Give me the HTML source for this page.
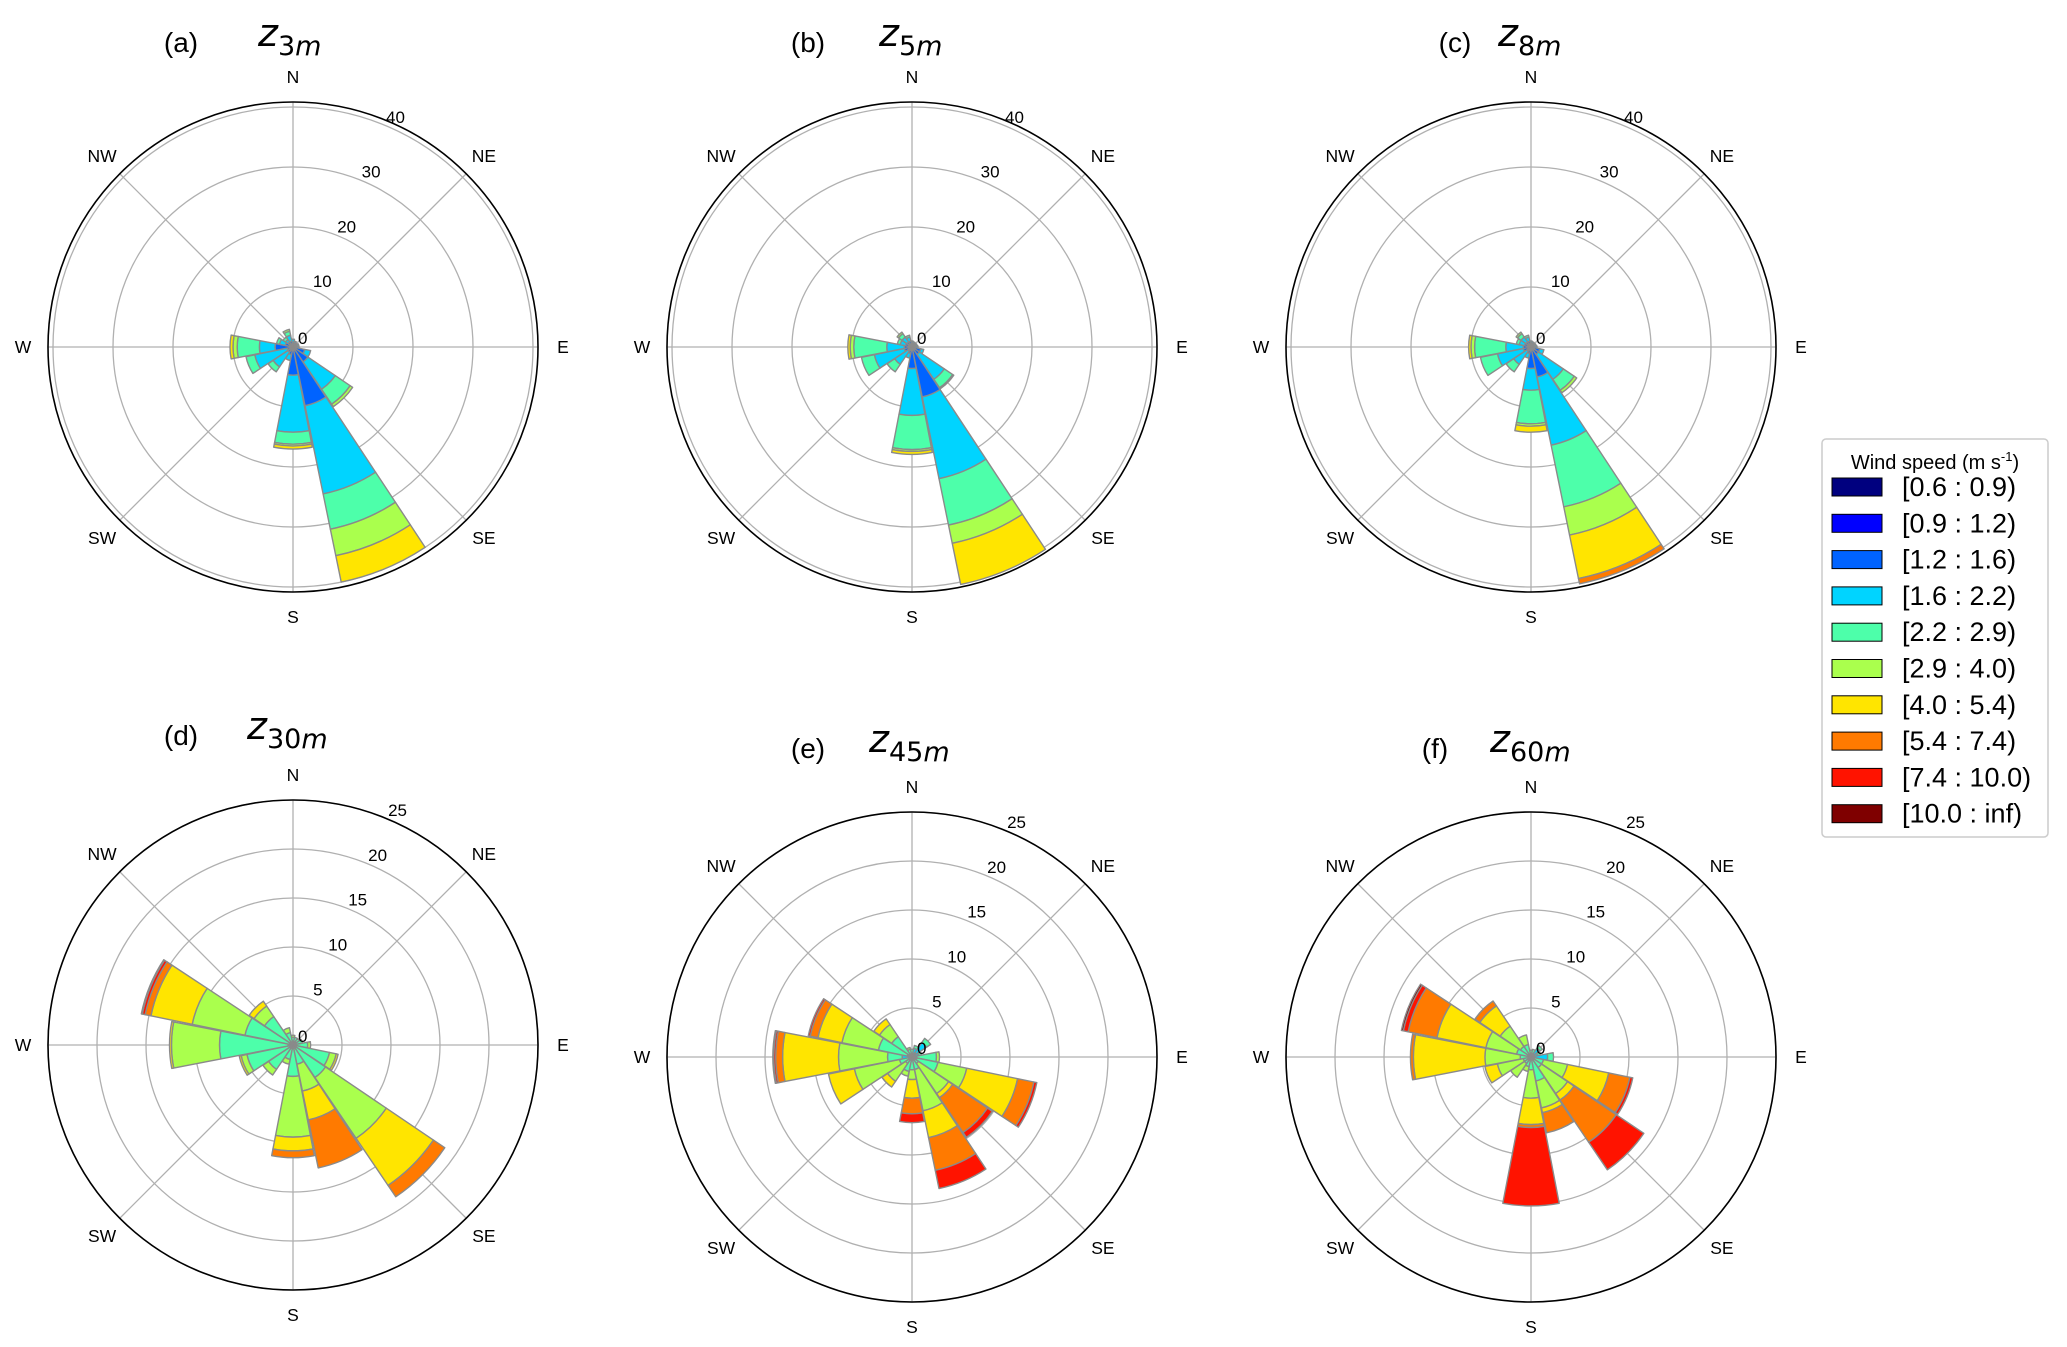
<!DOCTYPE html>
<html><head><meta charset="utf-8"><style>
html,body{margin:0;padding:0;background:#fff;}
svg{display:block;font-family:"Liberation Sans","DejaVu Sans",sans-serif;}
</style></head><body>
<svg id="fig" width="2067" height="1347" viewBox="0 0 2067 1347" xmlns="http://www.w3.org/2000/svg">
<g id="legend">
<rect x="1822" y="439" width="226" height="398" rx="4" fill="#fff" stroke="#ccc" stroke-width="1.5"/>
<text x="1935" y="469" font-size="20" text-anchor="middle">Wind speed (m s<tspan font-size="13" dy="-8">-1</tspan><tspan dy="8">)</tspan></text>
</g>
</svg>
<script>
const binLabels=["[0.6 : 0.9)","[0.9 : 1.2)","[1.2 : 1.6)","[1.6 : 2.2)","[2.2 : 2.9)","[2.9 : 4.0)","[4.0 : 5.4)","[5.4 : 7.4)","[7.4 : 10.0)","[10.0 : inf)"];
const binColors=["#00007f","#0000ff","#0063ff","#00d4ff","#4dffaa","#aaff4d","#ffe500","#ff7a00","#ff1300","#7f0000"];
const dirLabels=["N","NE","E","SE","S","SW","W","NW"];
const panelLetters=["(a)","(b)","(c)","(d)","(e)","(f)"];
const panelHeights=["3m","5m","8m","30m","45m","60m"];
const ticksTop=[10,20,30,40];
const ticksBottom=[5,10,15,20,25];
// frequency (%) increments per speed bin, 16 directions N,NNE,NE,...,NNW
const freqA=[[0,0.3,0.5,0.5],[0,0.3,0.4,0.3],[0,0.2,0.3,0.3],[0,0.3,0.4,0.3],[0,0.3,0.4,0.3],[0,0.5,1.5,1],[0,0.5,2.5,5.5,3,0.5],[0,0.5,9.5,15,6,4.5,4.5],[0,0.3,4.4,9.5,2,0.3,0.5],[0,0.3,1,1],[0,0.3,0.7,3,1],[0,0.3,0.7,5.5,1.5],[0,0.3,2.7,2.6,3.7,0.7,0.5],[0,0.3,1,1,0.5],[0,0.3,0.7,0.5,0.5],[0,0.3,0.7,1,0.7,0.3]];
const freqB=[[0,0.3,0.4,0.3],[0,0.3,0.3,0.3],[0,0.2,0.3,0.3],[0,0.3,0.3,0.3],[0,0.3,0.4,0.3],[0,0.5,1,0.5],[0,0.3,1.2,5,1.7,0.2],[0,0.3,8.2,13.9,7.9,3.1,7],[0,0.3,3.3,7.8,5.7,0.3,0.5],[0,0.3,0.8,0.8],[0,0.3,0.5,2.7,1.5],[0,0.3,1,5.1,2.2],[0,0.3,1,2.9,5.5,0.6,0.4],[0,0.3,0.8,0.9,0.5],[0,0.3,0.7,1,0.7,0.3],[0,0.3,0.7,0.7,0.3]];
const freqC=[[0,0.3,0.4,0.3],[0,0.3,0.3,0.3],[0,0.2,0.3,0.3],[0,0.3,0.3,0.3],[0,0.3,0.4,0.3],[0,0.5,1,0.7],[0,0.3,1.2,5,2.2,0.5],[0,0.3,4.8,11.6,10.5,4.8,7.4,0.9],[0,0.3,3.3,3.6,5.6,0.4,1],[0,0.3,0.8,0.8],[0,0.3,0.5,2.7,1.5],[0,0.3,1,4.4,2.9],[0,0.3,1,2.9,5.2,0.6,0.4],[0,0.3,0.8,0.9,0.5],[0,0.3,0.7,1,0.7,0.3],[0,0.3,0.7,0.7,0.3]];
const freqD=[[0,0,0,0.3,0.5,0.2],[0,0,0,0.3,0.5],[0,0,0,0.3,0.5],[0,0,0,0.3,0.7],[0,0,0,0.3,1.2,0.3],[0,0,0,0.3,3.5,0.7,0.2],[0,0,0,0.3,3.7,7.5,5.8,1.4],[0,0,0,0.3,1.7,2.8,3,5],[0,0,0,0.3,2.9,6.2,1.4,0.7],[0,0,0,0.3,1.2,0.5],[0,0,0,0.3,2.7,0.7],[0,0,0,0.3,4.5,0.6,0.2],[0,0,0,0.5,7,4.9,0.2],[0,0,0,0.3,4.7,5.5,4.3,0.6,0.3,0.1],[0,0,0,0.3,3.2,1.3,0.6],[0,0,0,0.3,1,0.5]];
const freqE=[[0,0,0,0.3,0.5],[0,0,0.3,0.6,0.3],[0,0,0.5,1.3,0.5],[0,0,0.2,0.5,0.3],[0,0,0,0.5,2,0.3],[0,0,0,0.5,2.2,3,5.3,1.7,0.3],[0,0,0,0.3,0.5,3.7,0.5,4.3,0.6],[0,0,0,0.3,1,4.3,2.8,3.4,1.9],[0,0,0,0.3,1,1,1.9,1.6,0.9],[0,0,0,0.3,1.2,0.5],[0,0,0,0.3,0.5,2.2,0.7],[0,0,0,0.3,1,4.7,2.7],[0,0,0,1,1.5,5,5.7,0.7,0.2,0.1],[0,0,0,0.5,3,3.8,2.5,0.8,0.2],[0,0,0,0.3,2.2,1.5,0.7],[0,0,0,0.3,0.5,0.2]];
const freqF=[[0,0,0,0.3,0.4],[0,0,0,0.3,0.5],[0,0,0.3,0.8,0.3],[0,0,0.2,0.5,0.3],[0,0,0.2,1.5,0.6],[0,0,0,0.3,1,2.5,4.3,2.2,0.3],[0,0,0,0.3,1,3.2,0.8,5.2,3.4],[0,0,0,0.3,2.2,2.8,0.5,2.1],[0,0,0,0.3,1,2.9,2.7,0.3,8],[0,0,0,0.3,0.7,0.5],[0,0,0,0.3,0.5,1.7],[0,0,0,0.3,0.5,2.7,1.3],[0,0,0,0.3,0.8,3.6,7.3,0.3],[0,0,0,0.3,1.2,3.2,5.1,3,0.5,0.2],[0,0,0,0.3,1,2.5,2.5,0.6],[0,0,0,0.3,1,1]];
const allFreq=[freqA,freqB,freqC,freqD,freqE,freqF];

const NS="http://www.w3.org/2000/svg";
const svg=document.getElementById('fig');
function mk(tag,attrs,parent){const e=document.createElementNS(NS,tag);for(const k in attrs)e.setAttribute(k,attrs[k]);(parent||svg).appendChild(e);return e;}
const geom=[{cx:293,cy:347,s:6,ty:52},{cx:912,cy:347,s:6,ty:52},{cx:1531,cy:347,s:6,ty:52},{cx:293,cy:1045,s:9.8,ty:745},{cx:912,cy:1057,s:9.8,ty:758},{cx:1531,cy:1057,s:9.8,ty:758}];
const letterX=[181,808,1455,181,808,1435];
const zX=[258,879,1498,247,869,1490];
const R=245;
function pt(cx,cy,r,deg){const a=deg*Math.PI/180;return [cx+r*Math.sin(a),cy-r*Math.cos(a)];}
function sector(cx,cy,r0,r1,a0,a1){
  const p1=pt(cx,cy,r0,a0),p2=pt(cx,cy,r1,a0),p3=pt(cx,cy,r1,a1),p4=pt(cx,cy,r0,a1);
  return `M${p1[0]},${p1[1]}L${p2[0]},${p2[1]}A${r1},${r1} 0 0 1 ${p3[0]},${p3[1]}L${p4[0]},${p4[1]}A${r0},${r0} 0 0 0 ${p1[0]},${p1[1]}Z`;
}
allFreq.forEach((freq,pi)=>{
  const g=geom[pi];
  const rScale=v=>v*g.s;
  const ticks=pi<3?ticksTop:ticksBottom;
  const grp=mk('g',{});
  
  
  ticks.forEach(t=>{
    const c=mk('circle',{cx:g.cx,cy:g.cy,r:Math.min(rScale(t),R),fill:'none',stroke:'#b0b0b0','stroke-width':1.3},grp);
    
    
  });
  for(let k=0;k<8;k++){
    const p=pt(g.cx,g.cy,R,k*45);
    const l=mk('line',{x1:g.cx,y1:g.cy,x2:p[0],y2:p[1],stroke:'#b0b0b0','stroke-width':1.3},grp);
    
    
  }
  freq.forEach((bins,d)=>{
    let cum=0;
    const a0=d*22.5-11.25*0.97,a1=d*22.5+11.25*0.97;
    bins.forEach((v,b)=>{
      if(v<=0)return;
      const r0=rScale(cum);cum+=v;const r1=rScale(cum);
      const p=mk('path',{d:sector(g.cx,g.cy,r0,r1,a0,a1),fill:binColors[b],stroke:'#8a8a8a','stroke-width':1.4,'stroke-linejoin':'round'},grp);
      
      
    });
  });
  const f=mk('circle',{cx:g.cx,cy:g.cy,r:R,fill:'none',stroke:'#000','stroke-width':1.6},grp);
  
  
  const zl=mk('text',{x:g.cx+5,y:g.cy-3,'font-size':17},grp);zl.textContent='0';
  
  
  ticks.forEach(t=>{
    const p=pt(g.cx,g.cy,rScale(t)+12,24);
    const tx=mk('text',{x:p[0],y:p[1]+6,'font-size':17,'text-anchor':'middle'},grp);
    tx.textContent=String(t);
    
    
  });
  dirLabels.forEach((lab,k)=>{
    const p=pt(g.cx,g.cy,270,k*45);
    const tx=mk('text',{x:p[0],y:p[1]+6,'font-size':17.5,'text-anchor':'middle'},grp);
    tx.textContent=lab;
    
    
  });
  const lt=mk('text',{x:letterX[pi],y:g.ty,'font-size':28,'text-anchor':'middle'},grp);
  lt.textContent=panelLetters[pi];
  
  
  const zt=mk('text',{x:zX[pi],y:g.ty-6,'font-size':38,'font-style':'italic','font-family':'"DejaVu Sans",sans-serif'},grp);
  
  
  const t1=mk('tspan',{},zt);t1.textContent='z';
  const m=panelHeights[pi].slice(0,-1);
  const t2=mk('tspan',{'font-size':27,'font-style':'normal',dy:9},zt);t2.textContent=m;
  const t3=mk('tspan',{'font-size':27},zt);t3.textContent='m';
});
const lg=document.getElementById('legend');
binLabels.forEach((lab,i)=>{
  const y=487+i*36.3;
  const r=mk('rect',{x:1832,y:y-9,width:50,height:18,fill:binColors[i],stroke:'#000','stroke-width':1},lg);
  
  
  const t=mk('text',{x:1902,y:y+9,'font-size':27},lg);
  t.textContent=lab;
  
  
});
</script>
</body></html>
